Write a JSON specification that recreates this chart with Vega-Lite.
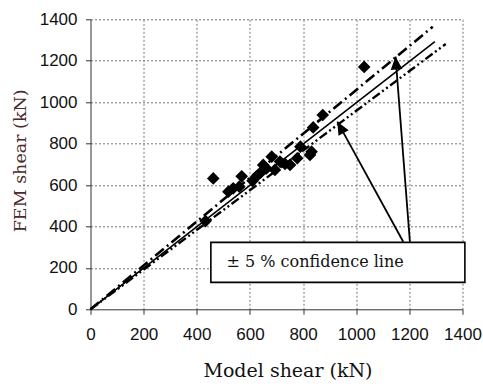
{
  "$schema": "https://vega.github.io/schema/vega-lite/v6.json",
  "width": 372,
  "height": 290,
  "autosize": {"type": "none"},
  "padding": {"left": 90.5, "top": 19.3, "right": 20.5, "bottom": 77.7},
  "background": "white",
  "config": {"view": {"stroke": null}},
  "datasets": {
    "points": [
      {"model": 433, "fem": 426},
      {"model": 462, "fem": 632},
      {"model": 519, "fem": 568},
      {"model": 537, "fem": 584},
      {"model": 560, "fem": 592},
      {"model": 569, "fem": 642},
      {"model": 610, "fem": 620},
      {"model": 625, "fem": 642},
      {"model": 640, "fem": 660},
      {"model": 650, "fem": 697},
      {"model": 662, "fem": 680},
      {"model": 682, "fem": 737},
      {"model": 694, "fem": 673},
      {"model": 713, "fem": 713},
      {"model": 732, "fem": 702},
      {"model": 751, "fem": 697},
      {"model": 778, "fem": 729},
      {"model": 790, "fem": 785},
      {"model": 826, "fem": 745},
      {"model": 832, "fem": 761},
      {"model": 838, "fem": 878},
      {"model": 874, "fem": 938},
      {"model": 1030, "fem": 1170}
    ],
    "refs": [
      {"series": "fit", "model": 0, "fem": 0},
      {"series": "fit", "model": 1296, "fem": 1292},
      {"series": "upper", "model": 0, "fem": 0},
      {"series": "upper", "model": 1288, "fem": 1364},
      {"series": "lower", "model": 0, "fem": 0},
      {"series": "lower", "model": 1337, "fem": 1281}
    ],
    "arrows": [
      {"arrow": "a", "model": 1177, "fem": 326},
      {"arrow": "a", "model": 929, "fem": 906},
      {"arrow": "b", "model": 1202, "fem": 326},
      {"arrow": "b", "model": 1148, "fem": 1220}
    ],
    "heads": [
      {"arrow": "a", "model": 929, "fem": 906},
      {"arrow": "b", "model": 1148, "fem": 1220}
    ],
    "box": [
      {"x1": 453, "x2": 1409, "y1": 130, "y2": 323}
    ],
    "label": [
      {"model": 512, "fem": 204, "text": "± 5 % confidence line"}
    ]
  },
  "layer": [
    {
      "data": {"name": "refs"},
      "transform": [{"filter": "datum.series == 'fit'"}],
      "mark": {"type": "line", "color": "#000", "strokeWidth": 1.6},
      "encoding": {
        "x": {
          "field": "model", "type": "quantitative",
          "scale": {"domain": [0, 1400], "nice": false},
          "axis": {
            "values": [0, 100, 200, 300, 400, 500, 600, 700, 800, 900, 1000, 1100, 1200, 1300, 1400],
            "format": "d",
            "labelExpr": "datum.value % 200 == 0 ? datum.label : ''",
            "labelOverlap": false,
            "labelFlush": false,
            "labelFont": "Liberation Sans", "labelFontSize": 17, "labelColor": "#111", "labelPadding": 12.5,
            "tickSize": {"condition": {"test": "datum.value % 200 != 0", "value": -4}, "value": 5},
            "tickColor": "#333", "domainColor": "#333", "domainWidth": 1,
            "grid": true, "gridColor": "#777", "gridDash": [2, 2], "gridWidth": 1,
            "gridOpacity": {"condition": {"test": "datum.value % 200 != 0 || datum.value == 0", "value": 0}, "value": 1},
            "title": "Model shear (kN)",
            "titleFont": "DejaVu Serif", "titleFontSize": 19, "titleFontWeight": "normal", "titleColor": "#111",
            "titleX": 197, "titleY": 67, "titleBaseline": "alphabetic", "titleAlign": "center", "titleAnchor": null
          }
        },
        "y": {
          "field": "fem", "type": "quantitative",
          "scale": {"domain": [0, 1400], "nice": false},
          "axis": {
            "values": [0, 100, 200, 300, 400, 500, 600, 700, 800, 900, 1000, 1100, 1200, 1300, 1400],
            "format": "d",
            "labelExpr": "datum.value % 200 == 0 ? datum.label : ''",
            "labelOverlap": false,
            "labelFlush": false,
            "labelFont": "Liberation Sans", "labelFontSize": 17, "labelColor": "#111", "labelPadding": 8.5,
            "tickSize": {"condition": {"test": "datum.value % 200 != 0", "value": -4}, "value": 5},
            "tickColor": "#333", "domainColor": "#333", "domainWidth": 1,
            "grid": true, "gridColor": "#777", "gridDash": [2, 2], "gridWidth": 1,
            "gridOpacity": {"condition": {"test": "datum.value % 200 != 0 || datum.value == 0", "value": 0}, "value": 1},
            "title": "FEM  shear (kN)",
            "titleFont": "DejaVu Serif", "titleFontSize": 17.5, "titleFontWeight": "normal", "titleColor": "#4a2a2a",
            "titleX": -65.5, "titleY": 141, "titleBaseline": "alphabetic", "titleAlign": "center", "titleAngle": -90, "titleAnchor": null
          }
        }
      }
    },
    {
      "data": {"name": "refs"},
      "transform": [{"filter": "datum.series == 'upper'"}],
      "mark": {"type": "line", "color": "#000", "strokeWidth": 2.6, "strokeDash": [11, 4, 2, 4]},
      "encoding": {
        "x": {"field": "model", "type": "quantitative"},
        "y": {"field": "fem", "type": "quantitative"}
      }
    },
    {
      "data": {"name": "refs"},
      "transform": [{"filter": "datum.series == 'lower'"}],
      "mark": {"type": "line", "color": "#000", "strokeWidth": 2.4, "strokeDash": [9, 3, 2, 3, 2, 3]},
      "encoding": {
        "x": {"field": "model", "type": "quantitative"},
        "y": {"field": "fem", "type": "quantitative"}
      }
    },
    {
      "data": {"name": "points"},
      "mark": {"type": "point", "shape": "diamond", "filled": true, "color": "#000", "opacity": 1, "size": 160},
      "encoding": {
        "x": {"field": "model", "type": "quantitative"},
        "y": {"field": "fem", "type": "quantitative"}
      }
    },
    {
      "data": {"name": "box"},
      "mark": {"type": "rect", "fill": "#fff", "stroke": "#000", "strokeWidth": 1.6},
      "encoding": {
        "x": {"field": "x1", "type": "quantitative"},
        "x2": {"field": "x2"},
        "y": {"field": "y1", "type": "quantitative"},
        "y2": {"field": "y2"}
      }
    },
    {
      "data": {"name": "arrows"},
      "mark": {"type": "line", "color": "#000", "strokeWidth": 1.8},
      "encoding": {
        "x": {"field": "model", "type": "quantitative"},
        "y": {"field": "fem", "type": "quantitative"},
        "detail": {"field": "arrow"}
      }
    },
    {
      "data": {"name": "heads"},
      "transform": [{"filter": "datum.arrow == 'a'"}],
      "mark": {"type": "point", "shape": "M0,0L0.45,1L-0.45,1Z", "filled": true, "color": "#000", "opacity": 1, "size": 676, "angle": 331.3},
      "encoding": {
        "x": {"field": "model", "type": "quantitative"},
        "y": {"field": "fem", "type": "quantitative"}
      }
    },
    {
      "data": {"name": "heads"},
      "transform": [{"filter": "datum.arrow == 'b'"}],
      "mark": {"type": "point", "shape": "M0,0L0.45,1L-0.45,1Z", "filled": true, "color": "#000", "opacity": 1, "size": 676, "angle": 355.6},
      "encoding": {
        "x": {"field": "model", "type": "quantitative"},
        "y": {"field": "fem", "type": "quantitative"}
      }
    },
    {
      "data": {"name": "label"},
      "mark": {"type": "text", "align": "left", "baseline": "alphabetic", "font": "DejaVu Serif", "fontSize": 16, "color": "#111"},
      "encoding": {
        "x": {"field": "model", "type": "quantitative"},
        "y": {"field": "fem", "type": "quantitative"},
        "text": {"field": "text"}
      }
    }
  ]
}
